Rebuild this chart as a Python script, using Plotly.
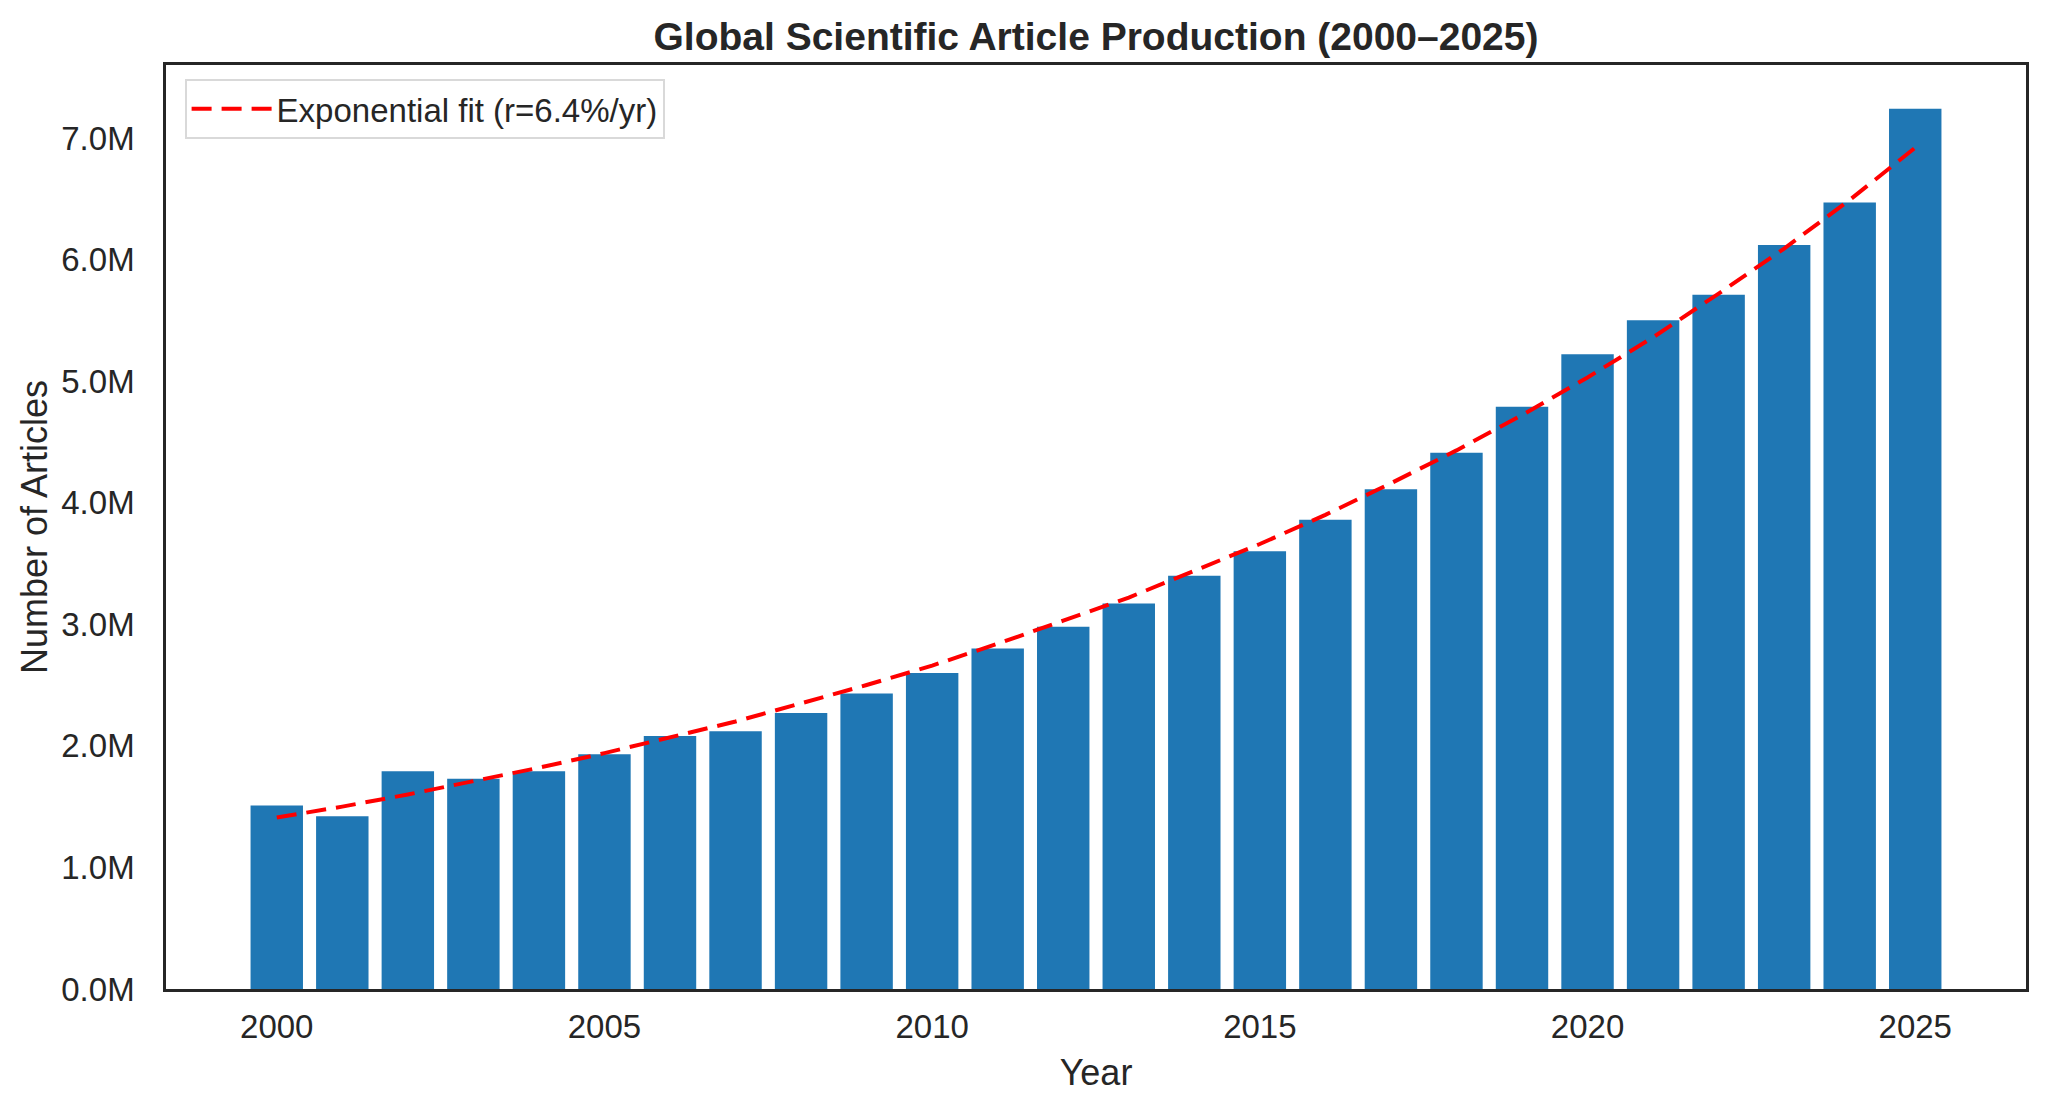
import plotly.graph_objects as go

# 연도별 논문 수 (백만 단위)
years = list(range(2000, 2026))
articles_m = [1.51, 1.42, 1.79, 1.73, 1.79, 1.93, 2.08, 2.12, 2.27, 2.43,
              2.60, 2.80, 2.98, 3.17, 3.40, 3.60, 3.86, 4.11, 4.41, 4.79,
              5.22, 5.50, 5.71, 6.12, 6.47, 7.24]

# 지수 추세선
fit_m = [1.41, 1.50, 1.60, 1.71, 1.82, 1.94, 2.07, 2.20, 2.35, 2.50,
         2.66, 2.84, 3.03, 3.22, 3.44, 3.66, 3.90, 4.16, 4.43, 4.72,
         5.03, 5.36, 5.72, 6.09, 6.49, 6.92]
fit_label = "Exponential fit (r=6.4%/yr)"

text_color = "#262626"
font_name = "Liberation Sans, Arial, sans-serif"

fig = go.Figure()
fig.add_trace(go.Bar(x=years, y=articles_m, width=0.8,
                     marker=dict(color="#1f77b4", line=dict(width=0)),
                     showlegend=False))
fig.add_trace(go.Scatter(x=years, y=fit_m, mode="lines", name=fit_label,
                         line=dict(color="red", width=4, dash="20px,10px")))

fig.update_layout(
    width=2046, height=1111,
    margin=dict(l=166, r=20, t=65, b=122),
    plot_bgcolor="white", paper_bgcolor="white",
    font=dict(family=font_name, size=33, color=text_color),
    title=dict(text="<b>Global Scientific Article Production (2000–2025)</b>",
               x=1096 / 2046, xanchor="center",
               y=1 - 36 / 1111, yanchor="middle",
               font=dict(size=39, color=text_color)),
    legend=dict(x=0.01, y=0.985, xanchor="left", yanchor="top",
                bgcolor="white", bordercolor="#d9d9d9", borderwidth=2,
                itemwidth=80,
                font=dict(size=33, color=text_color)),
    bargap=0.2,
)
fig.update_xaxes(range=[1998.31, 2026.69], tick0=2000, dtick=5,
                 showgrid=False, zeroline=False, ticks="", ticklabelstandoff=7,
                 showline=True, linecolor=text_color, linewidth=2.5, mirror=True,
                 title=dict(text="Year", font=dict(size=36), standoff=16))
fig.update_yaxes(range=[0, 7.6], tick0=0, dtick=1, tickformat=".1f", ticksuffix="M",
                 showgrid=False, zeroline=False, ticks="", ticklabelstandoff=22,
                 showline=True, linecolor=text_color, linewidth=2.5, mirror=True,
                 title=dict(text="Number of Articles", font=dict(size=36), standoff=3))

fig.write_html("out.html", config={"displayModeBar": False},
               post_script="document.body.style.margin='0';")
